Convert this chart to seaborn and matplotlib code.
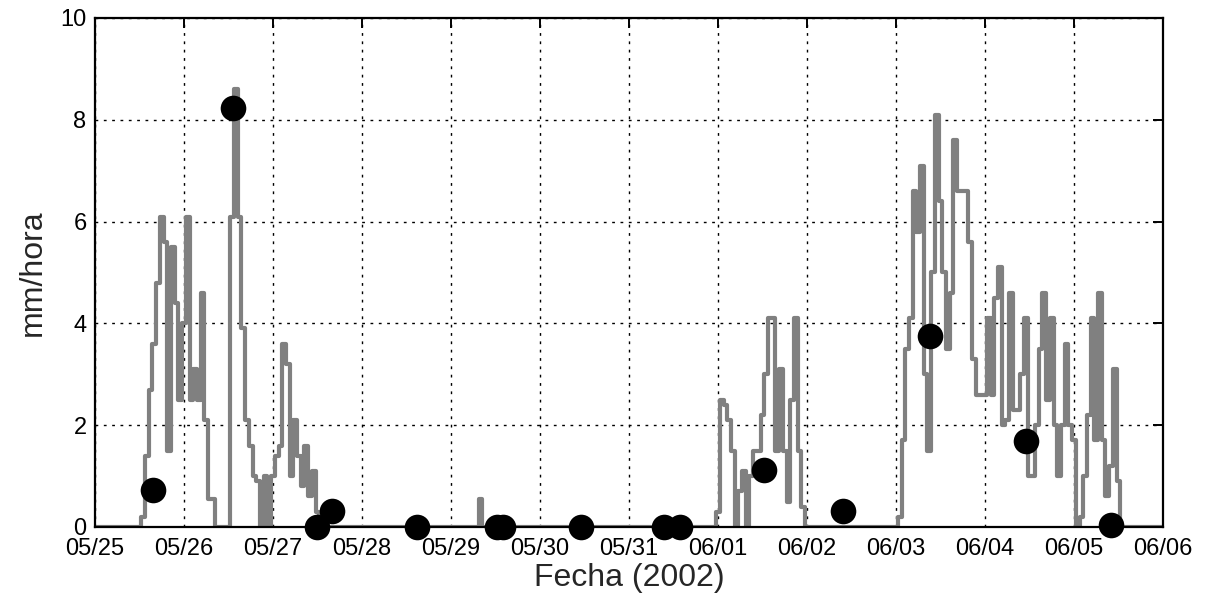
import numpy as np
import pandas as pd
import seaborn as sns
import matplotlib.pyplot as plt
import matplotlib.dates as mdates

sns.set_style('white')
plt.rcParams['font.family'] = ['Liberation Sans', 'DejaVu Sans']

start = pd.Timestamp('2002-05-25')
n_hours = 288

# hourly rainfall (mm/hora) for each rainy spell: (first hour, values)
spell_0526 = (13, [0.2, 1.4, 2.7, 3.6, 4.8, 6.1, 5.6, 1.5, 5.5, 4.4, 2.5, 4.0, 6.1, 2.5,
                   3.1, 2.5, 4.6, 2.1, 0.55, 0.55])
spell_0527 = (37, [6.1, 8.6, 6.1, 3.9, 2.1, 1.6, 1.0, 0.9, 0.0, 1.0, 0.0, 1.0, 1.4, 1.6,
                   3.6, 3.2, 1.0, 2.1, 1.4, 0.8, 1.6, 0.6, 1.1, 0.3])
spell_0529 = (104, [0.55])
spell_0601 = (168, [0.3, 2.5, 2.4, 2.1, 1.5, 0.0, 0.7, 1.1, 0.0, 1.0, 1.5, 1.5, 2.2, 3.0,
                    4.1, 4.1, 1.5, 3.1, 1.5, 0.5, 2.5, 4.1, 1.5, 0.4])
spell_0603 = (217, [0.2, 1.7, 3.5, 4.1, 6.6, 5.8, 7.1, 3.0, 1.5, 5.0, 8.1, 6.4, 5.0, 3.5,
                    4.6, 7.6, 6.6, 6.6, 6.6, 5.6, 3.3, 2.6, 2.6, 2.6, 4.1, 2.6, 4.5, 5.1,
                    2.0, 2.1, 4.6, 2.3, 2.3, 3.0, 4.1, 1.0, 1.0, 2.0, 3.5, 4.6, 2.5, 4.1,
                    2.0, 1.0, 2.0, 3.6, 2.0, 1.7, 0.0, 0.2, 1.0, 2.2, 4.1, 1.7, 4.6, 1.7,
                    0.6, 1.2, 3.1, 0.9])

# black dots: hour since 05/25 00:00 and value
dot_hours = [15.6, 37.2, 60.0, 63.8, 86.9, 108.5, 110.0, 131.0, 153.4, 157.7,
             180.5, 201.6, 225.1, 251.0, 274.0]
dot_values = [0.73, 8.23, 0.0, 0.31, 0.0, 0.0, 0.0, 0.0, 0.0, 0.0,
              1.12, 0.31, 3.75, 1.69, 0.03]

rain = np.zeros(n_hours + 1)
for first, vals in [spell_0526, spell_0527, spell_0529, spell_0601, spell_0603]:
    rain[first:first + len(vals)] = vals

line_df = pd.DataFrame({'fecha': pd.date_range(start, periods=n_hours + 1, freq='h'),
                        'lluvia': rain})
dots_df = pd.DataFrame({'fecha': start + pd.to_timedelta(dot_hours, unit='h'),
                        'lluvia': dot_values})

fig = plt.figure(figsize=(12.05, 6.06), dpi=100)
ax = fig.add_axes([0.0788, 0.1304, 0.8863, 0.8399])

sns.lineplot(data=line_df, x='fecha', y='lluvia', color='#808080', linewidth=3.0,
             drawstyle='steps-mid', ax=ax)
sns.scatterplot(data=dots_df, x='fecha', y='lluvia', color='black', s=340,
                edgecolor='black', linewidth=0, zorder=5, clip_on=False, ax=ax)

ax.set_xlim(start, start + pd.Timedelta(days=12))
ax.set_ylim(0, 10)
ax.xaxis.set_major_locator(mdates.DayLocator())
ax.xaxis.set_major_formatter(mdates.DateFormatter('%m/%d'))
ax.set_yticks([0, 2, 4, 6, 8, 10])

ax.grid(True, color='black', linestyle=(0, (2, 4)), linewidth=1.0)
ax.set_axisbelow(True)
for s in ax.spines.values():
    s.set_color('black')
    s.set_linewidth(1.6)
ax.tick_params(direction='in', length=7, width=1.4, top=True, right=True,
               labelsize=17, colors='black')
ax.tick_params(axis='x', pad=8)
ax.tick_params(axis='y', pad=6)

ax.set_xlabel('Fecha (2002)', fontsize=23, labelpad=2)
ax.set_ylabel('mm/hora', fontsize=23, labelpad=9)

fig.savefig('out.png', dpi=100)
